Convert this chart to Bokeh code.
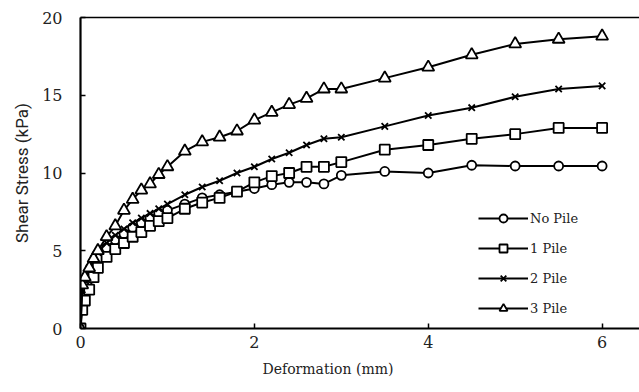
from bokeh.plotting import figure
from bokeh.models import Range1d, LinearAxis, FixedTicker, Title, Legend
from bokeh.embed import file_html
from bokeh.resources import INLINE

# Data
deformation = [0, 0.02, 0.05, 0.1, 0.15, 0.2, 0.3, 0.4, 0.5, 0.6, 0.7, 0.8, 0.9, 1.0,
               1.2, 1.4, 1.6, 1.8, 2.0, 2.2, 2.4, 2.6, 2.8, 3.0, 3.5, 4.0, 4.5, 5.0, 5.5, 6.0]
no_pile = [0, 2.0, 2.7, 3.4, 4.0, 4.5, 5.2, 5.7, 6.1, 6.5, 6.8, 7.1, 7.4, 7.6,
           8.0, 8.4, 8.6, 8.8, 9.0, 9.25, 9.4, 9.4, 9.3, 9.85, 10.1, 10.0, 10.5, 10.45, 10.45, 10.45]
one_pile = [0, 1.2, 1.8, 2.5, 3.3, 3.9, 4.6, 5.1, 5.5, 5.9, 6.2, 6.6, 6.9, 7.1,
            7.7, 8.1, 8.4, 8.8, 9.4, 9.8, 10.0, 10.4, 10.4, 10.7, 11.5, 11.8, 12.2, 12.5, 12.9, 12.9]
two_pile = [0, 2.5, 3.2, 3.9, 4.5, 4.9, 5.5, 6.0, 6.4, 6.8, 7.1, 7.4, 7.7, 8.0,
            8.6, 9.1, 9.5, 10.0, 10.4, 10.9, 11.3, 11.8, 12.2, 12.3, 13.0, 13.7, 14.2, 14.9, 15.4, 15.6]
three_pile = [0, 2.8, 3.3, 3.9, 4.5, 5.0, 5.9, 6.6, 7.6, 8.3, 8.9, 9.3, 9.9, 10.4,
              11.4, 12.0, 12.3, 12.7, 13.4, 13.9, 14.4, 14.8, 15.4, 15.4, 16.1, 16.8, 17.6, 18.3, 18.6, 18.8]

series_names = ["No Pile", "1 Pile", "2 Pile", "3 Pile"]
x_ticks = [0, 2, 4, 6]
y_ticks = [0, 5, 10, 15, 20]

SERIF = "DejaVu Serif"

p = figure(width=639, height=392, output_backend="svg", toolbar_location=None,
           x_range=Range1d(0, 6.43), y_range=Range1d(0, 20),
           min_border_left=80, min_border_right=0, min_border_top=17, min_border_bottom=64,
           x_axis_type=None, y_axis_type=None)
p.outline_line_color = None
p.grid.visible = False
p.background_fill_color = "white"
p.border_fill_color = "white"

xaxis = LinearAxis(ticker=FixedTicker(ticks=x_ticks))
yaxis = LinearAxis(ticker=FixedTicker(ticks=y_ticks))
for ax in (xaxis, yaxis):
    ax.axis_line_width = 2.2
    ax.axis_line_color = "black"
    ax.major_tick_in = 5
    ax.major_tick_out = 0
    ax.major_tick_line_width = 1.5
    ax.minor_tick_line_color = None
    ax.major_label_text_font = SERIF
    ax.major_label_text_font_size = "16px"
    ax.major_label_text_color = "#222222"
yaxis.major_label_standoff = 18
xaxis.major_label_standoff = 7
yaxis.axis_label = "Shear Stress (kPa)"
yaxis.axis_label_text_font = "Roboto"
yaxis.axis_label_text_font_style = "normal"
yaxis.axis_label_text_font_size = "17px"
yaxis.axis_label_text_color = "#222222"
yaxis.axis_label_standoff = 7
p.add_layout(xaxis, "below")
p.add_layout(yaxis, "left")

top_axis = LinearAxis(ticker=FixedTicker(ticks=[]), major_label_text_font_size="0px")
top_axis.axis_line_width = 1.5
top_axis.major_tick_line_color = None
top_axis.minor_tick_line_color = None
p.add_layout(top_axis, "above")

xtitle = Title(text="Deformation (mm)", align="left", offset=182, vertical_align="top",
               text_font=SERIF, text_font_size="14px",
               text_font_style="normal", text_color="#222222", standoff=21)
p.add_layout(xtitle, "below")

ys = [no_pile, one_pile, two_pile, three_pile]
markers = ["circle", "square", "x", "triangle"]
sizes = [9, 10, 9, 12]
items = []
for name, yv, mk, sz in zip(series_names, ys, markers, sizes):
    ln = p.line(deformation, yv, line_color="black", line_width=2)
    sc = p.scatter(deformation, yv, marker=mk, size=sz, fill_color="white",
                   line_color="black", line_width=1.8)
    items.append((name, [ln, sc]))

legend = Legend(items=items, location=(398, 10))
legend.border_line_color = None
legend.background_fill_alpha = 0
legend.label_text_font = SERIF
legend.label_text_font_size = "13px"
legend.label_text_color = "#222222"
legend.glyph_width = 50
legend.glyph_height = 20
legend.label_height = 20
legend.spacing = 10
legend.padding = 0
legend.margin = 0
legend.label_standoff = 2
p.add_layout(legend, "center")

open("out.html", "w").write(file_html(p, INLINE))
